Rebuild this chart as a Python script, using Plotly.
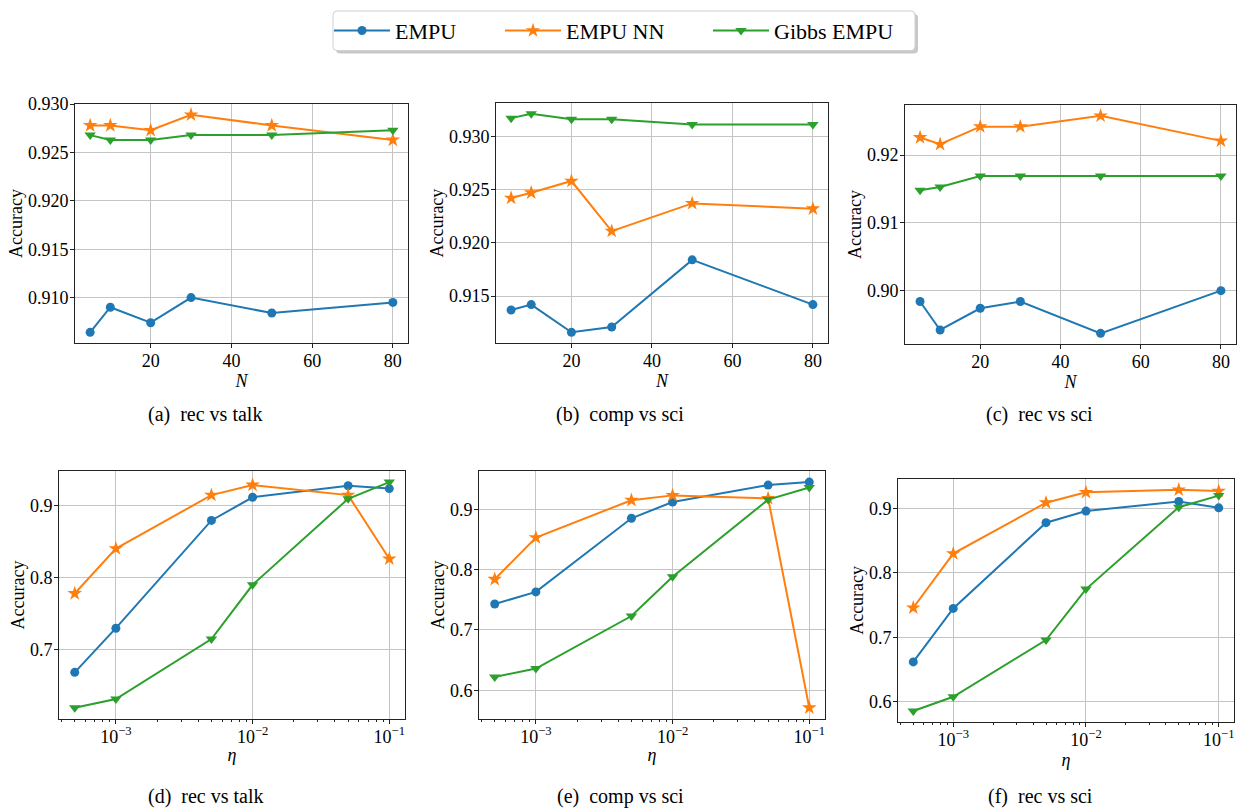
import plotly.graph_objects as go
import numpy as np

# ---------------- data ----------------
series_names = ["EMPU", "EMPU NN", "Gibbs EMPU"]
N_vals = [5, 10, 20, 30, 50, 80]
eta_vals = [5e-4, 1e-3, 5e-3, 1e-2, 5e-2, 1e-1]

# (a) rec vs talk, vs N
a_empu = [0.9064, 0.9090, 0.9074, 0.9100, 0.9084, 0.9095]
a_empu_nn = [0.9278, 0.9278, 0.9273, 0.9289, 0.9278, 0.9263]
a_gibbs = [0.9268, 0.9263, 0.9263, 0.9268, 0.9268, 0.9273]
# (b) comp vs sci, vs N
b_empu = [0.9137, 0.9142, 0.9116, 0.9121, 0.9184, 0.9142]
b_empu_nn = [0.9242, 0.9247, 0.9258, 0.9211, 0.9237, 0.9232]
b_gibbs = [0.9317, 0.9321, 0.9316, 0.9316, 0.9311, 0.9311]
# (c) rec vs sci, vs N
c_empu = [0.8984, 0.8942, 0.8974, 0.8984, 0.8937, 0.9000]
c_empu_nn = [0.9226, 0.9216, 0.9242, 0.9242, 0.9258, 0.9221]
c_gibbs = [0.9148, 0.9153, 0.9169, 0.9169, 0.9169, 0.9169]
# (d) rec vs talk, vs eta
d_empu = [0.669, 0.730, 0.879, 0.911, 0.927, 0.923]
d_empu_nn = [0.778, 0.840, 0.914, 0.928, 0.914, 0.826]
d_gibbs = [0.620, 0.632, 0.715, 0.790, 0.909, 0.932]
# (e) comp vs sci, vs eta
e_empu = [0.743, 0.763, 0.885, 0.912, 0.940, 0.945]
e_empu_nn = [0.784, 0.853, 0.915, 0.923, 0.918, 0.571]
e_gibbs = [0.622, 0.636, 0.723, 0.788, 0.916, 0.936]
# (f) rec vs sci, vs eta
f_empu = [0.662, 0.745, 0.878, 0.896, 0.911, 0.901]
f_empu_nn = [0.746, 0.830, 0.909, 0.925, 0.929, 0.927]
f_gibbs = [0.586, 0.608, 0.696, 0.775, 0.902, 0.920]

captions = ["(a)  rec vs talk", "(b)  comp vs sci", "(c)  rec vs sci",
            "(d)  rec vs talk", "(e)  comp vs sci", "(f)  rec vs sci"]

# ---------------- style ----------------
colors = ["#1f77b4", "#ff7f0e", "#2ca02c"]
symbols = ["circle", "star", "triangle-down"]
msizes = [9, 11, 10]
FONT = "Liberation Serif"
W, H = 1243, 811

panels = [
    dict(x=N_vals, ys=[a_empu, a_empu_nn, a_gibbs], log=False, px=(75, 408), py=(96, 338), fmt=".3f", dt=0.005),
    dict(x=N_vals, ys=[b_empu, b_empu_nn, b_gibbs], log=False, px=(496, 828), py=(95, 338), fmt=".3f", dt=0.005),
    dict(x=N_vals, ys=[c_empu, c_empu_nn, c_gibbs], log=False, px=(905, 1236), py=(97, 339), fmt=".2f", dt=0.01),
    dict(x=eta_vals, ys=[d_empu, d_empu_nn, d_gibbs], log=True, px=(59, 405), py=(467, 718), fmt=".1f", dt=0.1),
    dict(x=eta_vals, ys=[e_empu, e_empu_nn, e_gibbs], log=True, px=(479, 825), py=(467, 718), fmt=".1f", dt=0.1),
    dict(x=eta_vals, ys=[f_empu, f_empu_nn, f_gibbs], log=True, px=(898, 1234), py=(475, 721), fmt=".1f", dt=0.1),
]
cap_pos = [(205, 410), (620, 410), (1039, 410), (206, 796), (620, 796), (1040, 796)]
legend_ids = ["legend", "legend2", "legend3"]
legend_left_px = [329, 500, 708]          # left edge of each legend entry
legend_box_px = (333, 2, 915, 42)          # x0, y0, x1, y1 of the legend frame


def padded(lo, hi, frac=0.05):
    d = hi - lo
    return [lo - frac * d, hi + frac * d]


fig = go.Figure()
layout = {}
for i, p in enumerate(panels):
    k = "" if i == 0 else str(i + 1)
    for j in range(3):
        fig.add_trace(go.Scatter(
            x=p["x"], y=p["ys"][j], name=series_names[j], mode="lines+markers",
            line=dict(color=colors[j], width=2),
            marker=dict(symbol=symbols[j], size=msizes[j], color=colors[j], line=dict(width=0)),
            xaxis="x" + k, yaxis="y" + k, showlegend=(i == 0),
            legend=legend_ids[j], legendgroup=series_names[j]))
    allv = [v for s in p["ys"] for v in s]
    yr = padded(min(allv), max(allv))
    xdom = [p["px"][0] / W, p["px"][1] / W]
    ydom = [1 - p["py"][1] / H, 1 - p["py"][0] / H]
    common = dict(showline=True, linecolor="#222", linewidth=1, mirror=True,
                  ticks="outside", ticklen=4, tickcolor="#222", tickwidth=1,
                  showgrid=True, gridcolor="#c4c4c4", gridwidth=1, zeroline=False,
                  tickfont=dict(family=FONT, size=18, color="black"))
    if p["log"]:
        lx = np.log10(p["x"])
        xr = padded(lx.min(), lx.max())
        xa = dict(type="log", range=xr, domain=xdom, anchor="y" + k,
                  tickvals=[1e-3, 1e-2, 1e-1],
                  ticktext=["10<sup>\u22123</sup>", "10<sup>\u22122</sup>", "10<sup>\u22121</sup>"],
                  minor=dict(ticks="outside", ticklen=2, tickcolor="#222", dtick="D1", showgrid=False),
                  title=dict(text="<i>\u03b7</i>", font=dict(family=FONT, size=18, color="black"), standoff=2),
                  ticklabelstandoff=-3,
                  **common)
    else:
        xr = padded(min(p["x"]), max(p["x"]))
        xa = dict(range=xr, domain=xdom, anchor="y" + k, tick0=0, dtick=20,
                  title=dict(text="<i>N</i>", font=dict(family=FONT, size=18, color="black"), standoff=0),
                  ticklabelstandoff=-3,
                  **common)
    ya = dict(range=yr, domain=ydom, anchor="x" + k, tick0=0, dtick=p["dt"], tickformat=p["fmt"],
              title=dict(text="Accuracy", font=dict(family=FONT, size=18, color="black"), standoff=0),
              ticklabelstandoff=-2,
              **common)
    layout["xaxis" + k] = xa
    layout["yaxis" + k] = ya

annotations = []
for (cx, cy), t in zip(cap_pos, captions):
    annotations.append(dict(text=t, x=cx / W, y=1 - cy / H, xref="paper", yref="paper",
                            xanchor="center", yanchor="middle", showarrow=False,
                            font=dict(family=FONT, size=20, color="black")))


# legend frame with a soft shadow (rounded rectangle paths)
def rounded(x0, y0, x1, y1, r):
    X0, X1 = x0 / W, x1 / W
    Y0, Y1 = 1 - y0 / H, 1 - y1 / H
    rx, ry = r / W, r / H
    return (f"M{X0+rx},{Y0} L{X1-rx},{Y0} Q{X1},{Y0} {X1},{Y0-ry} L{X1},{Y1+ry} "
            f"Q{X1},{Y1} {X1-rx},{Y1} L{X0+rx},{Y1} Q{X0},{Y1} {X0},{Y1+ry} "
            f"L{X0},{Y0-ry} Q{X0},{Y0} {X0+rx},{Y0} Z")


bx0, by0, bx1, by1 = legend_box_px
shapes = [
    dict(type="path", xref="paper", yref="paper", path=rounded(bx0 + 3, by0 + 3, bx1 + 3, by1 + 3, 4),
         fillcolor="#c8c8c8", line=dict(width=0), layer="above"),
    dict(type="path", xref="paper", yref="paper", path=rounded(bx0, by0, bx1, by1, 4),
         fillcolor="white", line=dict(color="#d0d0d0", width=1), layer="above"),
]

legends = {}
for lid, lx in zip(legend_ids, legend_left_px):
    legends[lid] = dict(orientation="h", x=lx / W, xanchor="left",
                        y=1 - ((by0 + by1) / 2) / H, yanchor="middle",
                        bgcolor="rgba(0,0,0,0)", borderwidth=0,
                        font=dict(family=FONT, size=22, color="black"),
                        itemwidth=56)

fig.update_layout(
    width=W, height=H, autosize=False,
    margin=dict(l=0, r=0, t=0, b=0),
    paper_bgcolor="white", plot_bgcolor="white",
    font=dict(family=FONT, color="black"),
    annotations=annotations,
    shapes=shapes,
    **legends,
    **layout,
)

fig.write_html("out.html", config={"displayModeBar": False},
               post_script="document.body.style.margin='0px';document.body.style.overflow='hidden';")
